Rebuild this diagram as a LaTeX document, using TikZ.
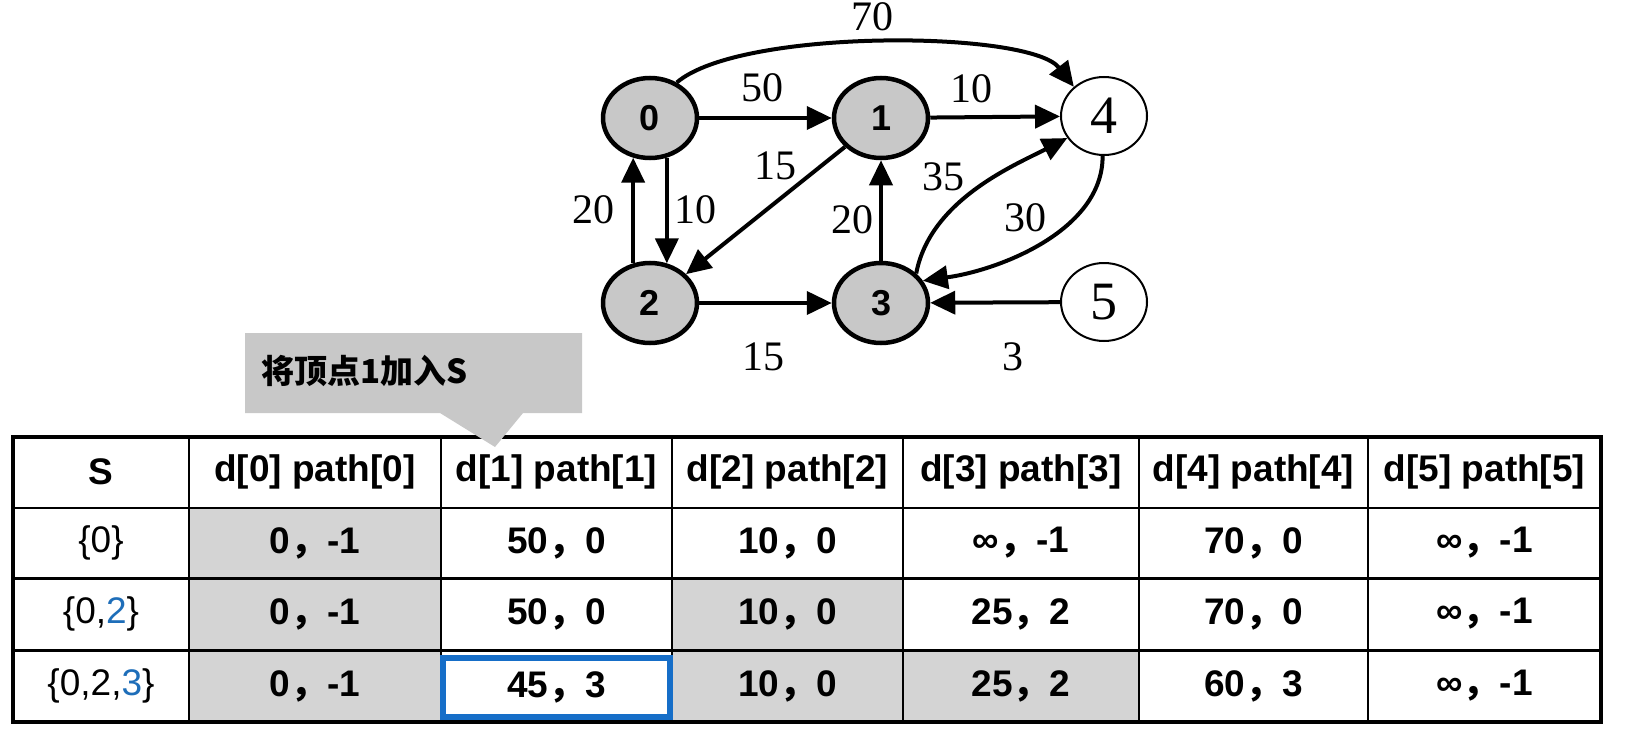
\documentclass[tikz,border=0pt]{standalone}
\usepackage{fontspec}
\usetikzlibrary{shapes.geometric,arrows.meta}
\newfontfamily\tabfont{Liberation Sans}
\newfontfamily\numfont{Liberation Serif}
\newfontfamily\cjk{Noto Sans CJK SC}
\definecolor{nodegray}{RGB}{200,200,200}
\definecolor{cellgray}{RGB}{212,212,212}
\definecolor{callgray}{RGB}{200,200,200}
\definecolor{hlblue}{RGB}{22,110,200}
\definecolor{numblue}{RGB}{30,110,185}
\newcommand\fc{{\cjk\bfseries ，}}
\newcommand\tabsz{\fontsize{37}{42}\selectfont}
\begin{document}
\begin{tikzpicture}[x=1pt,y=-1pt,
  gnode/.style={ellipse,draw,line width=4.5pt,fill=nodegray,minimum width=94pt,minimum height=80pt,inner sep=0pt,font=\tabfont\bfseries\fontsize{36}{36}\selectfont},
  wnode/.style={ellipse,draw,line width=2pt,fill=white,minimum width=86pt,minimum height=78pt,inner sep=0pt,font=\numfont\fontsize{54}{54}\selectfont},
  arr/.style={line width=4pt,-{Triangle[length=25pt,width=23pt]}},
  elab/.style={font=\numfont\fontsize{42}{42}\selectfont},
  hcell/.style={font=\tabfont\bfseries\tabsz},
  scell/.style={font=\tabfont\tabsz},
  vcell/.style={font=\tabfont\bfseries\tabsz},
  gridline/.style={line width=2pt},
  rowline/.style={line width=3pt},
  outerline/.style={line width=4pt}]
\useasboundingbox (0,0) rectangle (1646,741);
\fill[white] (0,0) rectangle (1646,741);

% graph nodes
\node[gnode] (n0) at (650,118) {0};
\node[gnode] (n1) at (881,118) {1};
\node[wnode] (n4) at (1104,116) {4};
\node[gnode] (n2) at (650,303) {2};
\node[gnode] (n3) at (881,303) {3};
\node[wnode] (n5) at (1104,302) {5};

% edges
\draw[arr] (n0.53) .. controls (740,28) and (1030,30) .. (n4.136);
\draw[arr] (n0) -- (n1);
\draw[arr] (n1) -- (n4);
\draw[arr] (n1) -- (n2);
\draw[arr] (n2.113) -- (n0.247);
\draw[arr] (n0.293) -- (n2.67);
\draw[arr] (n3) -- (n1);
\draw[arr] (n3.40) .. controls (930,200) and (1015,165) .. (n4.211);
\draw[arr] (n4.268) .. controls (1103,230) and (1000,270) .. (n3.28);
\draw[arr] (n2) -- (n3);
\draw[arr] (n5) -- (n3);

% edge labels
\node[elab] (l70) at (872,17) {70};
\node[elab] (l50) at (762,88) {50};
\node[elab] (l10a) at (971,89) {10};
\node[elab] (l15a) at (775,166) {15};
\node[elab] (l20a) at (593,210) {20};
\node[elab] (l10b) at (695,210) {10};
\node[elab] (l20b) at (852,220) {20};
\node[elab] (l35) at (943,177) {35};
\node[elab] (l30) at (1025,218) {30};
\node[elab] (l15b) at (763,357) {15};
\node[elab] (l3) at (1013,357) {3};

% table shading
\fill[cellgray] (189,508) rectangle (441,722);
\fill[cellgray] (672,578) rectangle (903,722);
\fill[cellgray] (903,650) rectangle (1139,722);

% table lines
\foreach \x in {189,441,672,903,1139,1368} \draw[gridline] (\x,437) -- (\x,722);
\draw[gridline] (13,508) -- (1601,508);
\draw[rowline] (13,578) -- (1601,578);
\draw[rowline] (13,650) -- (1601,650);
\draw[outerline] (13,437) rectangle (1601,722);

% header
\node[hcell] (h0) at (101,472) {S};
\node[hcell] (h1) at (315,472) {d[0] path[0]};
\node[hcell] (h2) at (556.5,472) {d[1] path[1]};
\node[hcell] (h3) at (787.5,472) {d[2] path[2]};
\node[hcell] (h4) at (1021,472) {d[3] path[3]};
\node[hcell] (h5) at (1253.5,472) {d[4] path[4]};
\node[hcell] (h6) at (1484.5,472) {d[5] path[5]};

% row 1
\node[scell] (s1) at (101,543) {\{0\}};
\node[vcell] (v11) at (315,543) {0\fc -1};
\node[vcell] (v12) at (556.5,543) {50\fc 0};
\node[vcell] (v13) at (787.5,543) {10\fc 0};
\node[vcell] (v14) at (1021,543) {∞\fc -1};
\node[vcell] (v15) at (1253.5,543) {70\fc 0};
\node[vcell] (v16) at (1484.5,543) {∞\fc -1};

% row 2
\node[scell] (s2) at (101,614) {\{0,\textcolor{numblue}{2}\}};
\node[vcell] (v21) at (315,614) {0\fc -1};
\node[vcell] (v22) at (556.5,614) {50\fc 0};
\node[vcell] (v23) at (787.5,614) {10\fc 0};
\node[vcell] (v24) at (1021,614) {25\fc 2};
\node[vcell] (v25) at (1253.5,614) {70\fc 0};
\node[vcell] (v26) at (1484.5,614) {∞\fc -1};

% row 3
\node[scell] (s3) at (101,686) {\{0,2,\textcolor{numblue}{3}\}};
\node[vcell] (v31) at (315,686) {0\fc -1};
\node[vcell,draw=hlblue,fill=white,line width=6pt,minimum width=227pt,minimum height=59pt,inner sep=0pt] (v32) at (556.5,687.5) {45\fc 3};
\node[vcell] (v33) at (787.5,686) {10\fc 0};
\node[vcell] (v34) at (1021,686) {25\fc 2};
\node[vcell] (v35) at (1253.5,686) {60\fc 3};
\node[vcell] (v36) at (1484.5,686) {∞\fc -1};

% callout
\fill[callgray] (245,333) -- (582,333) -- (582,413) -- (523,413) -- (495,447) -- (440,413) -- (245,413) -- cycle;
\node[anchor=west,font=\cjk\bfseries\fontsize{33}{38}\selectfont] (calltext) at (258,371) {将顶点1加入S};
\end{tikzpicture}
\end{document}
